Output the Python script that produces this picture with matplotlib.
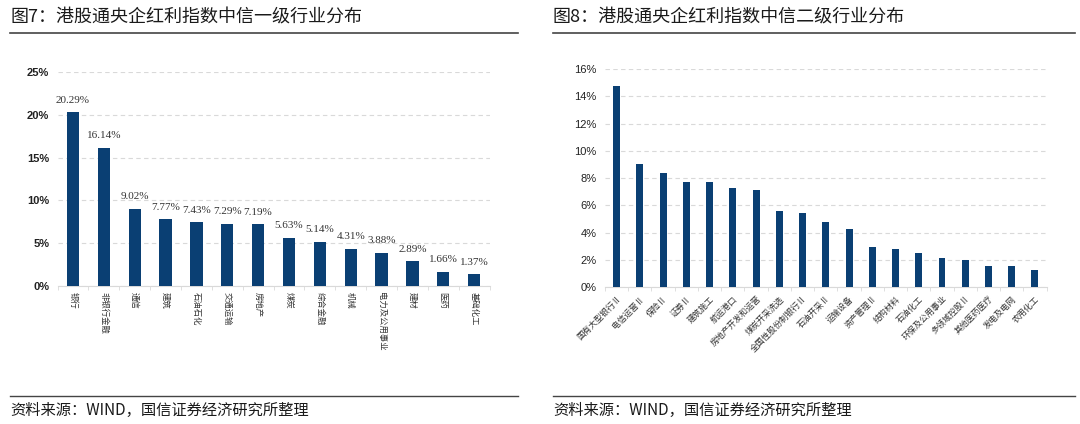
import matplotlib
matplotlib.use("Agg")
import matplotlib.pyplot as plt
from matplotlib.lines import Line2D
import numpy as np

plt.rcParams['font.family'] = ['Noto Sans CJK SC', 'DejaVu Sans']

# ─── Dati ──────────────────────────────────────────────────────────────────
left_title = "图7：港股通央企红利指数中信一级行业分布"
left_cats = ["银行", "非银行金融", "通信", "建筑", "石油石化", "交通运输", "房地产",
             "煤炭", "综合金融", "机械", "电力及公用事业", "建材", "医药", "基础化工"]
left_vals = [20.29, 16.14, 9.02, 7.77, 7.43, 7.29, 7.19,
             5.63, 5.14, 4.31, 3.88, 2.89, 1.66, 1.37]
left_yticks = [0, 5, 10, 15, 20, 25]

right_title = "图8：港股通央企红利指数中信二级行业分布"
right_cats = ["国有大型银行Ⅱ", "电信运营Ⅱ", "保险Ⅱ", "证券Ⅱ", "建筑施工", "航运港口",
              "房地产开发和运营", "煤炭开采洗选", "全国性股份制银行Ⅱ", "石油开采Ⅱ",
              "运输设备", "资产管理Ⅱ", "结构材料", "石油化工", "环保及公用事业",
              "多领域控股Ⅱ", "其他医药医疗", "发电及电网", "农用化工"]
right_vals = [14.78, 9.01, 8.35, 7.74, 7.72, 7.25, 7.16, 5.59, 5.47, 4.81,
              4.25, 2.98, 2.83, 2.49, 2.17, 2.00, 1.59, 1.56, 1.27]
right_yticks = [0, 2, 4, 6, 8, 10, 12, 14, 16]

source_text = "资料来源：WIND，国信证券经济研究所整理"

BAR = "#0A3F73"
GRID = "#D9D9D9"
W, H = 1080, 424


def px(x, y):
    """Pixel → coordinate figura."""
    return x / W, 1 - y / H


def style_axis(ax, yticks, ymax, fsize, bold):
    ax.set_ylim(0, ymax)
    ax.set_yticks(yticks)
    ax.set_yticklabels([f"{t}%" for t in yticks], fontsize=fsize,
                       fontweight="bold" if bold else "normal",
                       family=["Liberation Sans", "DejaVu Sans"], color="#222222")
    for s in ["top", "right", "left"]:
        ax.spines[s].set_visible(False)
    ax.spines["bottom"].set_color(GRID)
    ax.tick_params(axis="y", length=0, pad=6)
    ax.grid(axis="y", color=GRID, linestyle=(0, (4, 3)), linewidth=0.8)
    ax.set_axisbelow(True)


fig = plt.figure(figsize=(10.8, 4.24), dpi=100)

# ─── Pannello sinistro ─────────────────────────────────────────────────────
x0, y1 = px(57.6, 72)
x1, y0 = px(489.5, 286)
ax = fig.add_axes([x0, y0, x1 - x0, y1 - y0])
xs = np.arange(len(left_cats))
ax.bar(xs, left_vals, width=0.4, color=BAR, zorder=3)
for x, v in zip(xs, left_vals):
    ax.text(x, v + 0.9, f"{v:.2f}%", ha="center", va="bottom", fontsize=8,
            family=["Liberation Serif"], color="#333333")
style_axis(ax, left_yticks, 25, 8, True)
ax.set_xlim(-0.5, len(left_cats) - 0.5)
ax.set_xticks(xs)
ax.set_xticklabels(left_cats, rotation=270, fontsize=6, va="top", ha="center",
                   color="#333333")
ax.set_xticks(np.arange(len(left_cats) + 1) - 0.5, minor=True)
ax.tick_params(axis="x", which="major", length=0, pad=4)
ax.tick_params(axis="x", which="minor", length=3, color=GRID)

# ─── Pannello destro ───────────────────────────────────────────────────────
x0, y1 = px(605, 69)
x1, y0 = px(1046.6, 287.3)
ax = fig.add_axes([x0, y0, x1 - x0, y1 - y0])
xs = np.arange(len(right_cats))
ax.bar(xs, right_vals, width=0.3, color=BAR, zorder=3)
style_axis(ax, right_yticks, 16, 8, False)
ax.set_xlim(-0.5, len(right_cats) - 0.5)
ax.set_xticks(xs)
ax.set_xticklabels(right_cats, rotation=45, fontsize=6, ha="right",
                   rotation_mode="anchor", color="#333333")
ax.set_xticks(np.arange(len(right_cats) + 1) - 0.5, minor=True)
ax.tick_params(axis="x", which="major", length=0, pad=5)
ax.tick_params(axis="x", which="minor", length=3, color=GRID)

# ─── Titoli, righe e fonte ─────────────────────────────────────────────────
for (xa, xb), title in [((10, 518), left_title), ((553, 1075), right_title)]:
    fig.text(*px(xa, 18), title, fontsize=13, va="center", ha="left",
             color="#1a1a1a")
    fig.add_artist(Line2D([xa / W, xb / W], [1 - 33 / H] * 2,
                          color="#444444", linewidth=1.2))
    fig.add_artist(Line2D([xa / W, xb / W], [1 - 396 / H] * 2,
                          color="#444444", linewidth=1.0))
    fig.text(*px(xa, 410), source_text, fontsize=11, va="center", ha="left",
             color="#1a1a1a")

fig.savefig("out.png", dpi=100)
